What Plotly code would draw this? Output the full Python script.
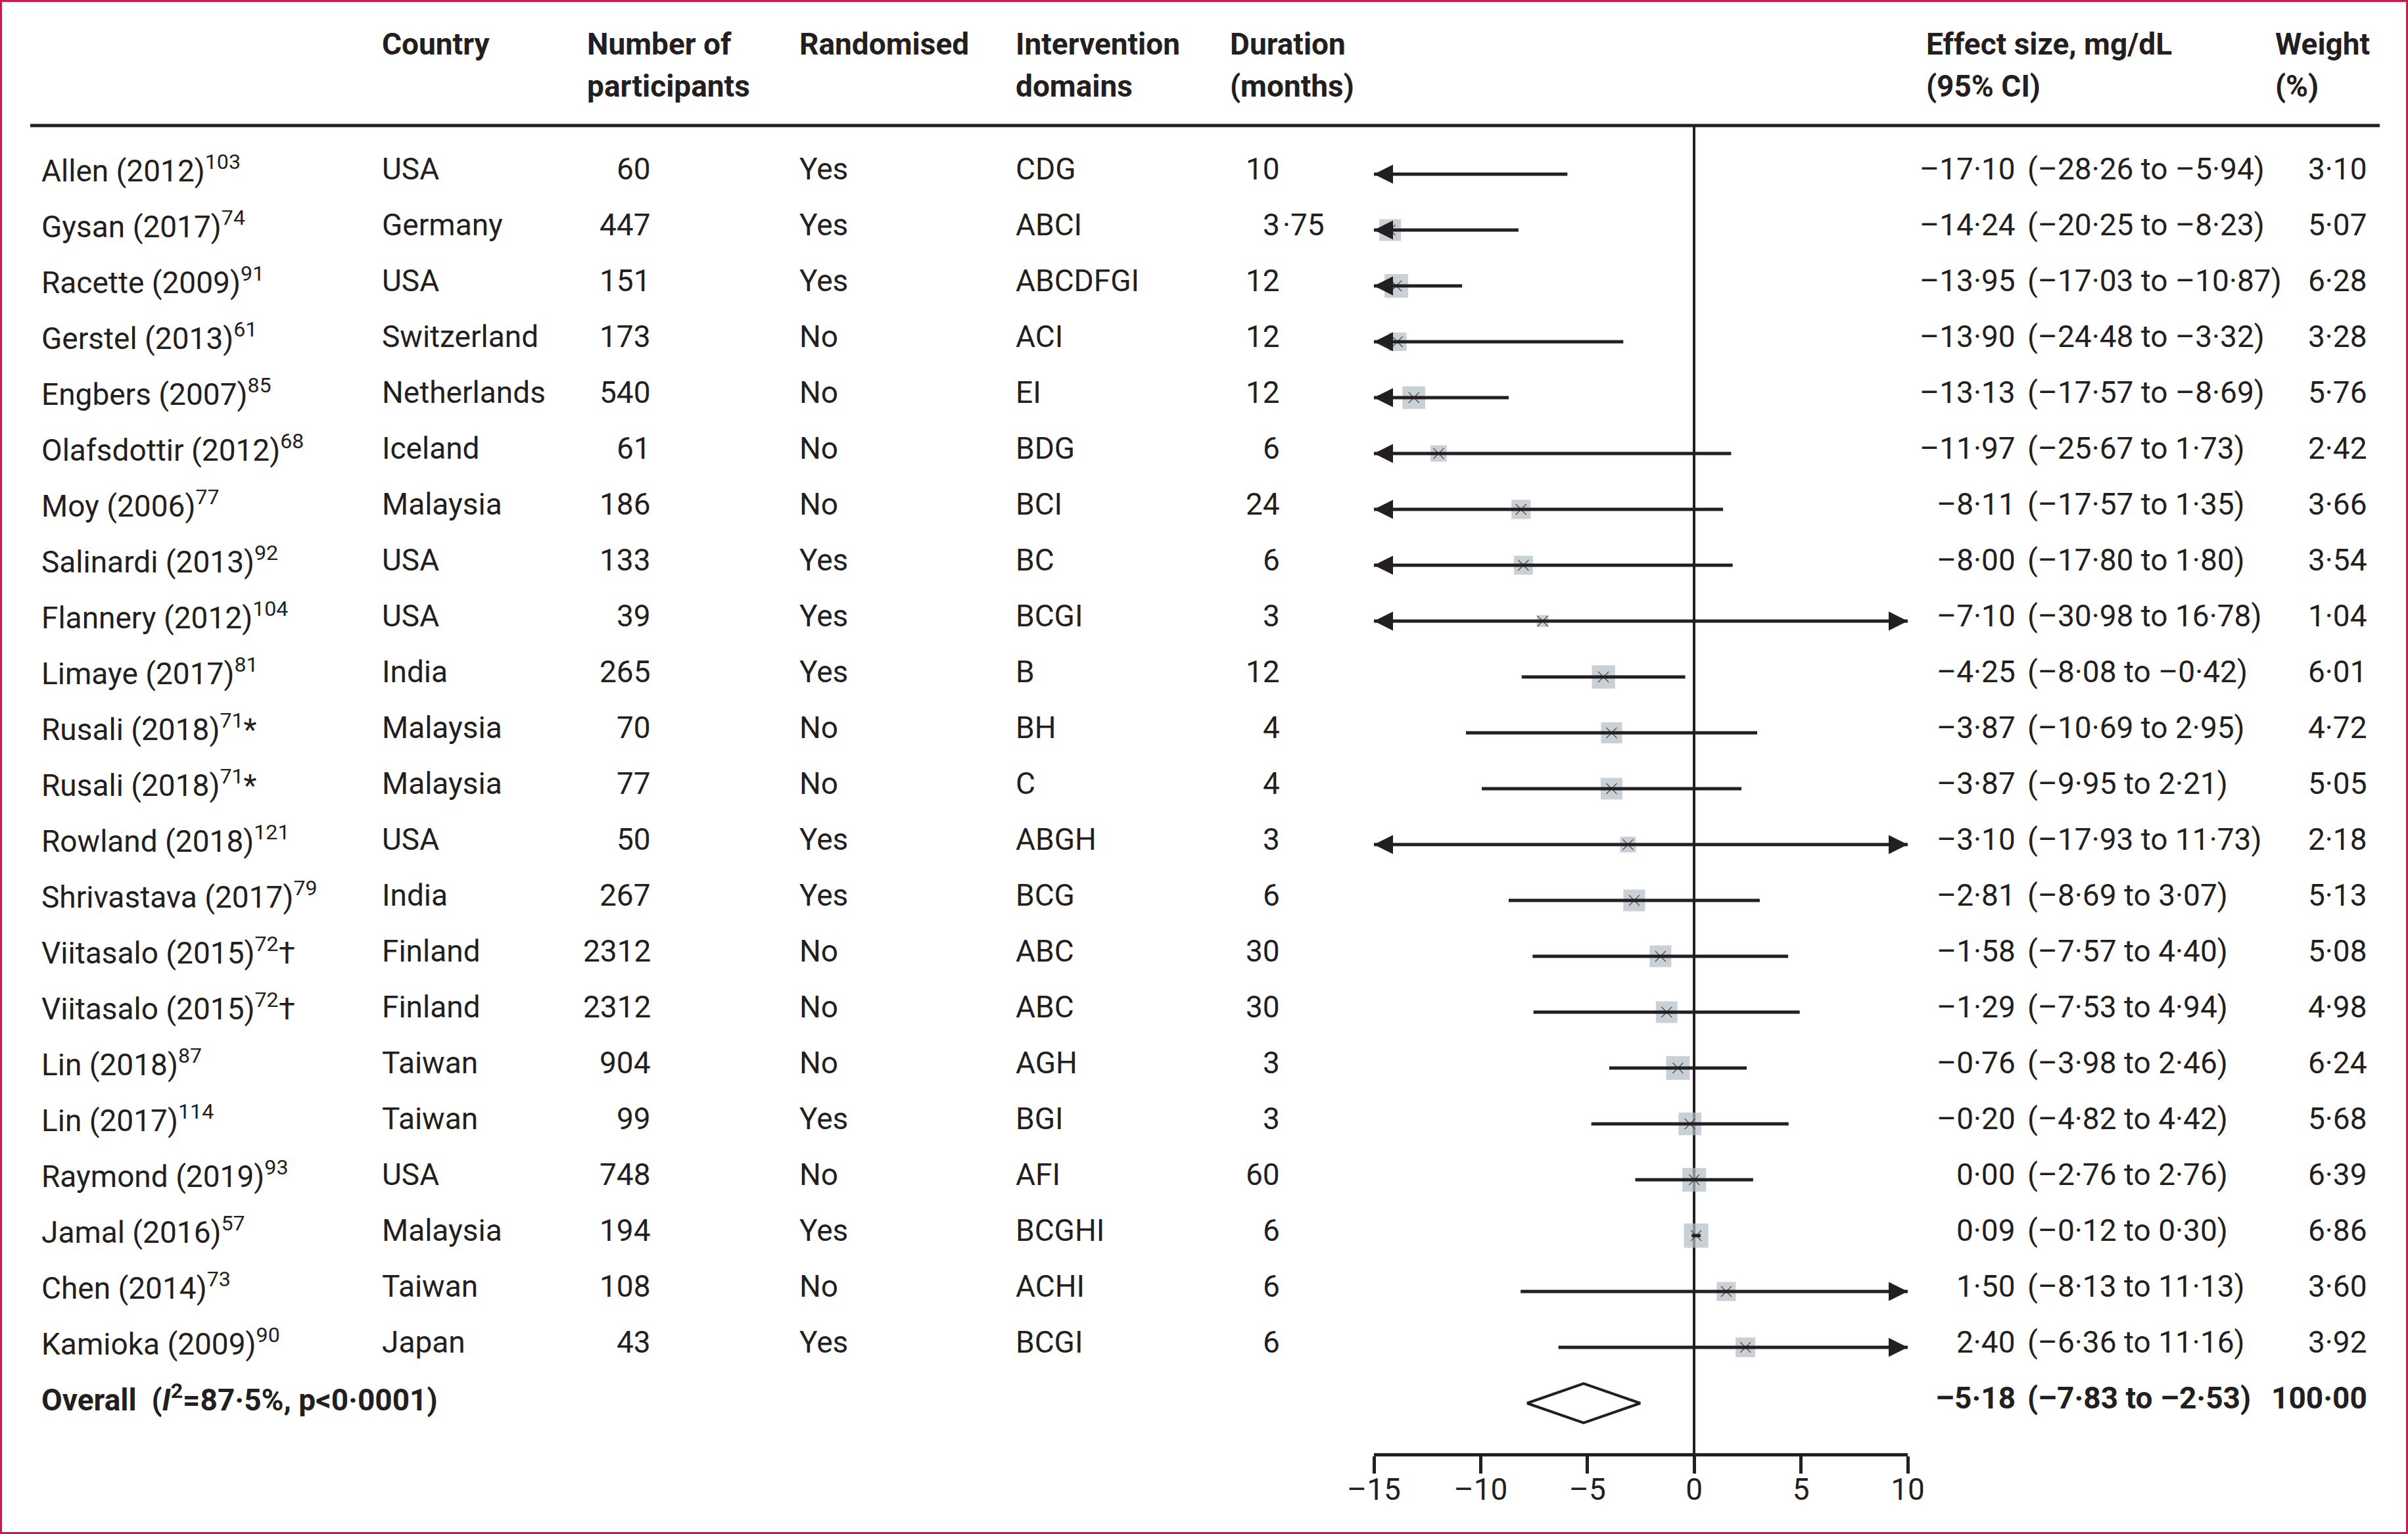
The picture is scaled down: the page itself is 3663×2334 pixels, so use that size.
import plotly.graph_objects as go

# ---------------- data ----------------
studies = [
    "Allen (2012)<sup>103</sup>", "Gysan (2017)<sup>74</sup>", "Racette (2009)<sup>91</sup>",
    "Gerstel (2013)<sup>61</sup>", "Engbers (2007)<sup>85</sup>", "Olafsdottir (2012)<sup>68</sup>",
    "Moy (2006)<sup>77</sup>", "Salinardi (2013)<sup>92</sup>", "Flannery (2012)<sup>104</sup>",
    "Limaye (2017)<sup>81</sup>", "Rusali (2018)<sup>71</sup>*", "Rusali (2018)<sup>71</sup>*",
    "Rowland (2018)<sup>121</sup>", "Shrivastava (2017)<sup>79</sup>", "Viitasalo (2015)<sup>72</sup>†",
    "Viitasalo (2015)<sup>72</sup>†", "Lin (2018)<sup>87</sup>", "Lin (2017)<sup>114</sup>",
    "Raymond (2019)<sup>93</sup>", "Jamal (2016)<sup>57</sup>", "Chen (2014)<sup>73</sup>",
    "Kamioka (2009)<sup>90</sup>",
]
countries = ["USA", "Germany", "USA", "Switzerland", "Netherlands", "Iceland", "Malaysia", "USA",
             "USA", "India", "Malaysia", "Malaysia", "USA", "India", "Finland", "Finland",
             "Taiwan", "Taiwan", "USA", "Malaysia", "Taiwan", "Japan"]
participants = [60, 447, 151, 173, 540, 61, 186, 133, 39, 265, 70, 77, 50, 267, 2312, 2312,
                904, 99, 748, 194, 108, 43]
randomised = ["Yes", "Yes", "Yes", "No", "No", "No", "No", "Yes", "Yes", "Yes", "No", "No",
              "Yes", "Yes", "No", "No", "No", "Yes", "No", "Yes", "No", "Yes"]
domains = ["CDG", "ABCI", "ABCDFGI", "ACI", "EI", "BDG", "BCI", "BC", "BCGI", "B", "BH", "C",
           "ABGH", "BCG", "ABC", "ABC", "AGH", "BGI", "AFI", "BCGHI", "ACHI", "BCGI"]
duration = [10, 3.75, 12, 12, 12, 6, 24, 6, 3, 12, 4, 4, 3, 6, 30, 30, 3, 3, 60, 6, 6, 6]
effect = [-17.10, -14.24, -13.95, -13.90, -13.13, -11.97, -8.11, -8.00, -7.10, -4.25, -3.87,
          -3.87, -3.10, -2.81, -1.58, -1.29, -0.76, -0.20, 0.00, 0.09, 1.50, 2.40]
ci_low = [-28.26, -20.25, -17.03, -24.48, -17.57, -25.67, -17.57, -17.80, -30.98, -8.08, -10.69,
          -9.95, -17.93, -8.69, -7.57, -7.53, -3.98, -4.82, -2.76, -0.12, -8.13, -6.36]
ci_high = [-5.94, -8.23, -10.87, -3.32, -8.69, 1.73, 1.35, 1.80, 16.78, -0.42, 2.95, 2.21,
           11.73, 3.07, 4.40, 4.94, 2.46, 4.42, 2.76, 0.30, 11.13, 11.16]
weight = [3.10, 5.07, 6.28, 3.28, 5.76, 2.42, 3.66, 3.54, 1.04, 6.01, 4.72, 5.05, 2.18, 5.13,
          5.08, 4.98, 6.24, 5.68, 6.39, 6.86, 3.60, 3.92]

overall_label = "<b>Overall  (<i>I</i><sup>2</sup>=87·5%, p&lt;0·0001)</b>"
overall_effect = -5.18
overall_low = -7.83
overall_high = -2.53
overall_weight = 100.00

x_range = [-15, 10]
x_ticks = [-15, -10, -5, 0, 5, 10]

headers = [
    ("", ""),
    ("Country", ""),
    ("Number of", "participants"),
    ("Randomised", ""),
    ("Intervention", "domains"),
    ("Duration", "(months)"),
    ("Effect size, mg/dL", "(95% CI)"),
    ("Weight", "(%)"),
]

# ---------------- layout constants (pixels) ----------------
W, H = 3663, 2334
INK = "#231F20"
BOX = "#B4BDC5"
BORDER = "#C41E4A"
FONT = "Roboto, 'Liberation Sans', sans-serif"
FS = 46

ROW0_PX, ROW_STEP = 265, 85
PLOT_TOP, PLOT_BOT = 193, 2211
PLOT_L, PLOT_R = 2090, 2902
TEXT_LIFT = 8


def fx(px):
    return px / W


def fy(px):
    return 1 - px / H


def fmt(v):
    s = f"{abs(v):.2f}".replace(".", "·")
    return ("–" + s) if v < 0 else s


n = len(studies)
rows = list(range(n))
overall_row = n

fig = go.Figure()

# squares (size scaled by weight)
sizes = [17.7 * w ** 0.385 for w in weight]
fig.add_trace(go.Scatter(
    x=effect, y=rows, mode="markers",
    marker=dict(symbol="square", size=sizes, color=BOX, line=dict(width=0)),
    hoverinfo="skip",
))
# thin x marks on boxes
fig.add_trace(go.Scatter(
    x=effect, y=rows, mode="markers",
    marker=dict(symbol="x-thin-open", size=16, color="#4a4a4a", line=dict(width=1.2)),
    hoverinfo="skip",
))
# CI lines
lx, ly = [], []
for lo, hi, r in zip(ci_low, ci_high, rows):
    lx += [lo, hi, None]
    ly += [r, r, None]
fig.add_trace(go.Scatter(x=lx, y=ly, mode="lines", line=dict(color=INK, width=5),
                         hoverinfo="skip"))
# arrows for CIs beyond the axis range
left_rows = [r for r, lo in zip(rows, ci_low) if lo < x_range[0]]
right_rows = [r for r, hi in zip(rows, ci_high) if hi > x_range[1]]
fig.add_trace(go.Scatter(
    x=[x_range[0]] * len(left_rows), y=left_rows, mode="markers",
    marker=dict(symbol="arrow-left", size=29, color=INK, line=dict(width=0)),
    hoverinfo="skip",
))
fig.add_trace(go.Scatter(
    x=[x_range[1]] * len(right_rows), y=right_rows, mode="markers",
    marker=dict(symbol="arrow-right", size=29, color=INK, line=dict(width=0)),
    hoverinfo="skip",
))
# overall diamond
dh = 30 / ROW_STEP
fig.add_trace(go.Scatter(
    x=[overall_low, overall_effect, overall_high, overall_effect, overall_low],
    y=[overall_row, overall_row - dh, overall_row, overall_row + dh, overall_row],
    mode="lines", line=dict(color=INK, width=4), hoverinfo="skip",
))

# ---------------- text table ----------------
ann = []


def add_text(text, xpx, row=None, ypx=None, anchor="left", bold=False):
    if bold:
        text = f"<b>{text}</b>"
    d = dict(text=text, x=fx(xpx), xref="paper", xanchor=anchor, yanchor="middle",
             showarrow=False, font=dict(family=FONT, size=FS, color=INK))
    if row is not None:
        d.update(y=row, yref="y", yshift=TEXT_LIFT)
    else:
        d.update(y=fy(ypx), yref="paper")
    ann.append(d)


# header positions (left edges)
head_x = [61, 579, 891, 1214, 1543, 1869, 2928, 3459]
for (l1, l2), hx in zip(headers, head_x):
    if l1:
        add_text(l1, hx, ypx=67, bold=True)
    if l2:
        add_text(l2, hx, ypx=131, bold=True)

X_NAME, X_COUNTRY, X_N, X_RAND, X_DOM, X_DUR = 61, 579, 992, 1214, 1543, 1949
X_EST, X_CI, X_W = 3068, 3082, 3603

for r in rows:
    add_text(studies[r], X_NAME, row=r)
    add_text(countries[r], X_COUNTRY, row=r)
    add_text(str(participants[r]), X_N, row=r, anchor="right")
    add_text(randomised[r], X_RAND, row=r)
    add_text(domains[r], X_DOM, row=r)
    d = duration[r]
    if float(d).is_integer():
        add_text(str(int(d)), X_DUR, row=r, anchor="right")
    else:
        ip, fp = f"{d:.2f}".split(".")
        add_text(ip, X_DUR, row=r, anchor="right")
        add_text("·" + fp, X_DUR, row=r, anchor="left")
    add_text(fmt(effect[r]), X_EST, row=r, anchor="right")
    add_text(f"({fmt(ci_low[r])} to {fmt(ci_high[r])})", X_CI, row=r)
    add_text(fmt(weight[r]), X_W, row=r, anchor="right")

add_text(overall_label, X_NAME, row=overall_row)
add_text(fmt(overall_effect), X_EST, row=overall_row, anchor="right", bold=True)
add_text(f"({fmt(overall_low)} to {fmt(overall_high)})", X_CI, row=overall_row, bold=True)
add_text(fmt(overall_weight), X_W, row=overall_row, anchor="right", bold=True)

shapes = [
    # header rule
    dict(type="line", xref="paper", yref="paper", x0=fx(46), x1=fx(3620),
         y0=fy(191), y1=fy(191), line=dict(color=INK, width=5)),
    # frame
    dict(type="rect", xref="paper", yref="paper", x0=fx(1.5), x1=fx(W - 1.5),
         y0=fy(H - 1.5), y1=fy(1.5), line=dict(color=BORDER, width=3)),
]

fig.update_layout(
    width=W, height=H,
    margin=dict(l=0, r=0, t=0, b=0, pad=0, autoexpand=False),
    paper_bgcolor="white", plot_bgcolor="white",
    showlegend=False,
    annotations=ann, shapes=shapes,
    font=dict(family=FONT, size=FS, color=INK),
    xaxis=dict(
        domain=[fx(PLOT_L), fx(PLOT_R)], range=x_range, automargin=False,
        showgrid=False, zeroline=True, zerolinecolor=INK, zerolinewidth=4,
        showline=True, linecolor=INK, linewidth=5,
        ticks="outside", ticklen=26, tickwidth=5, tickcolor=INK,
        tickvals=x_ticks, ticktext=[fmt(t).replace("·00", "") for t in x_ticks],
        tickfont=dict(family=FONT, size=FS, color=INK),
        ticklabelstandoff=-15,
        fixedrange=True,
    ),
    yaxis=dict(
        domain=[fy(PLOT_BOT), fy(PLOT_TOP)], automargin=False,
        range=[(PLOT_BOT - ROW0_PX) / ROW_STEP, (PLOT_TOP - ROW0_PX) / ROW_STEP],
        showgrid=False, zeroline=False, showline=False, showticklabels=False, ticks="",
        fixedrange=True,
    ),
)

fig.write_html("out.html", config={"displayModeBar": False},
               post_script="document.body.style.margin='0';")
